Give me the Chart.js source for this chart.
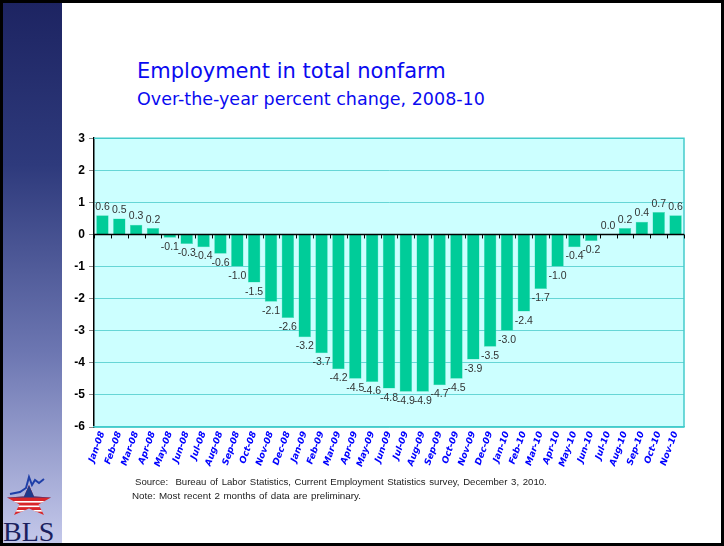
<!DOCTYPE html>
<html>
<head>
<meta charset="utf-8">
<script src="https://cdn.jsdelivr.net/npm/chart.js@4.4.1/dist/chart.umd.min.js"></script>
<style>
  html, body { margin: 0; padding: 0; background: #fff; }
  #page { position: relative; width: 724px; height: 546px; overflow: hidden; background: #fff; }
  #frame { position: absolute; left: 0; top: 0; width: 718px; height: 540px; border: 3px solid #000; }
  #side { position: absolute; left: 3px; top: 3px; width: 59px; height: 540px;
          background: linear-gradient(to bottom, #1d2462 0%, #2e3a7c 30%, #6d77b2 65%, #c4c8ea 100%); }
  #logo { position: absolute; left: 0; top: 470px; }
  .title { position: absolute; color: #0a0af0; font-family: "DejaVu Sans", sans-serif; white-space: nowrap; }
  #t1 { left: 137px; top: 59px; font-size: 21px; }
  #t2 { left: 137px; top: 89px; font-size: 17.5px; }
  #chartBox { position: absolute; left: 62px; top: 127px; width: 640px; height: 350px; }
  .note { position: absolute; font-family: "Liberation Sans", Arial, sans-serif; color: #222; white-space: nowrap; }
  #src { left: 135px; top: 476px; font-size: 9.6px; word-spacing: 1px; }
  #nt { left: 132px; top: 490px; font-size: 9.8px; word-spacing: 0.8px; }
</style>
</head>
<body>
<div id="page">
  <div id="frame"></div>
  <div id="side"></div>
  <svg id="logo" width="62" height="76" viewBox="0 0 62 76">
    <defs>
      <clipPath id="starClip">
        <polygon points="29,15 34,26.5 51,27.5 38.5,34.5 44,45 29,38.5 14,45 19.5,34.5 7,27.5 24,26.5"/>
      </clipPath>
    </defs>
    <!-- estrela: topo azul, parte de baixo vermelha com listras brancas -->
    <g clip-path="url(#starClip)">
      <rect x="0" y="10" width="62" height="40" fill="#d8262a"/>
      <rect x="0" y="10" width="62" height="17.5" fill="#1f3a8a"/>
      <rect x="0" y="31" width="62" height="1.6" fill="#fff"/>
      <rect x="0" y="35.5" width="62" height="1.6" fill="#fff"/>
      <rect x="0" y="40" width="62" height="1.6" fill="#fff"/>
    </g>
    <!-- linha do gráfico sobre a estrela -->
    <polyline points="10,24 20,22 26,18 29,7 32,15 35,10 39,13 44,9" fill="none" stroke="#1f3fa8" stroke-width="2"/>
    <text x="3" y="71" font-family="Liberation Serif, serif" font-size="28" fill="#1b1f5e">BLS</text>
  </svg>

  <div class="title" id="t1">Employment in total nonfarm</div>
  <div class="title" id="t2">Over-the-year percent change, 2008-10</div>

  <div id="chartBox"><canvas id="grafico" width="640" height="350"></canvas></div>

  <div class="note" id="src">Source:&nbsp; Bureau of Labor Statistics, Current Employment Statistics survey, December 3, 2010.</div>
  <div class="note" id="nt">Note: Most recent 2 months of data are preliminary.</div>
</div>

<script>
// Meses (jan/2008 a nov/2010)
const meses = ['Jan-08', 'Feb-08', 'Mar-08', 'Apr-08', 'May-08', 'Jun-08', 'Jul-08', 'Aug-08', 'Sep-08',
  'Oct-08', 'Nov-08', 'Dec-08', 'Jan-09', 'Feb-09', 'Mar-09', 'Apr-09', 'May-09', 'Jun-09', 'Jul-09',
  'Aug-09', 'Sep-09', 'Oct-09', 'Nov-09', 'Dec-09', 'Jan-10', 'Feb-10', 'Mar-10', 'Apr-10', 'May-10',
  'Jun-10', 'Jul-10', 'Aug-10', 'Sep-10', 'Oct-10', 'Nov-10'];

// Variação percentual em relação ao mesmo mês do ano anterior
const variacao = [0.6, 0.5, 0.3, 0.2, -0.1, -0.3, -0.4, -0.6, -1.0,
  -1.5, -2.1, -2.6, -3.2, -3.7, -4.2, -4.5, -4.6, -4.8, -4.9,
  -4.9, -4.7, -4.5, -3.9, -3.5, -3.0, -2.4, -1.7, -1.0, -0.4,
  -0.2, 0.0, 0.2, 0.4, 0.7, 0.6];

// Eixo Y
const eixoMin = -6;
const eixoMax = 3;

// fundo azul claro da área do gráfico, bordas e linha do zero com marquinhas
const moldura = {
  id: 'moldura',
  beforeDraw(chart) {
    const { ctx, chartArea: a } = chart;
    ctx.save();
    ctx.fillStyle = '#ccffff';
    ctx.fillRect(a.left, a.top, a.right - a.left, a.bottom - a.top);
    ctx.restore();
  },
  afterDatasetsDraw(chart) {
    const { ctx, chartArea: a, scales } = chart;
    ctx.save();
    ctx.strokeStyle = '#44cccc';
    ctx.lineWidth = 1.5;
    ctx.beginPath();
    ctx.moveTo(a.left, a.top);
    ctx.lineTo(a.right, a.top);
    ctx.lineTo(a.right, a.bottom);
    ctx.stroke();

    // linha do zero
    const y0 = scales.y.getPixelForValue(0);
    ctx.strokeStyle = '#000';
    ctx.lineWidth = 1.5;
    ctx.beginPath();
    ctx.moveTo(a.left, y0);
    ctx.lineTo(a.right, y0);
    ctx.stroke();

    // marquinhas entre as categorias
    const passo = scales.x.getPixelForValue(1) - scales.x.getPixelForValue(0);
    ctx.lineWidth = 1;
    ctx.beginPath();
    for (let i = 0; i <= meses.length; i++) {
      const x = scales.x.getPixelForValue(i) - passo / 2;
      ctx.moveTo(Math.round(x) + 0.5, y0);
      ctx.lineTo(Math.round(x) + 0.5, y0 + 4);
    }
    ctx.stroke();
    ctx.restore();
  }
};

// rótulos com o valor de cada barra
const rotulos = {
  id: 'rotulos',
  afterDatasetsDraw(chart) {
    const { ctx } = chart;
    const meta = chart.getDatasetMeta(0);
    ctx.save();
    ctx.font = '10.5px "Liberation Sans", Arial, sans-serif';
    ctx.fillStyle = '#333';
    ctx.textAlign = 'center';
    meta.data.forEach((bar, i) => {
      const v = variacao[i];
      const txt = v.toFixed(1);
      if (v >= 0) {
        ctx.textBaseline = 'bottom';
        ctx.fillText(txt, bar.x, bar.y - 3);
      } else {
        ctx.textBaseline = 'top';
        ctx.fillText(txt, bar.x, bar.y + 4);
      }
    });
    ctx.restore();
  }
};

const ctx = document.getElementById('grafico').getContext('2d');
const grafico = new Chart(ctx, {
  type: 'bar',
  data: {
    labels: meses,
    datasets: [{
      label: 'Variação',
      data: variacao,
      backgroundColor: '#00cc99',
      borderColor: '#55ddbb',
      borderWidth: 0.5,
      barPercentage: 0.74,
      categoryPercentage: 1
    }]
  },
  options: {
    responsive: false,
    animation: false,
    layout: { padding: { top: 10, right: 18, left: 0, bottom: 0 } },
    plugins: {
      legend: { display: false },
      tooltip: { enabled: false }
    },
    scales: {
      y: {
        min: eixoMin,
        max: eixoMax,
        ticks: {
          stepSize: 1,
          color: '#000',
          padding: 4,
          font: { family: '"Liberation Sans", Arial, sans-serif', size: 12, weight: 'bold' }
        },
        grid: { color: '#66d6d6', lineWidth: 1, tickColor: '#888', tickLength: 5 },
        border: { color: '#000', width: 1.5 },
        afterFit(scale) { scale.width = 32; }
      },
      x: {
        ticks: {
          minRotation: 70,
          maxRotation: 70,
          autoSkip: false,
          color: '#0000ff',
          padding: 3,
          font: { family: '"DejaVu Sans", Verdana, sans-serif', size: 9, weight: 'bold', style: 'italic' }
        },
        grid: { display: false, drawTicks: false },
        border: { color: '#44cccc', width: 1.5 },
        afterFit(scale) { scale.height = 50; }
      }
    }
  },
  plugins: [moldura, rotulos]
});
</script>
</body>
</html>
